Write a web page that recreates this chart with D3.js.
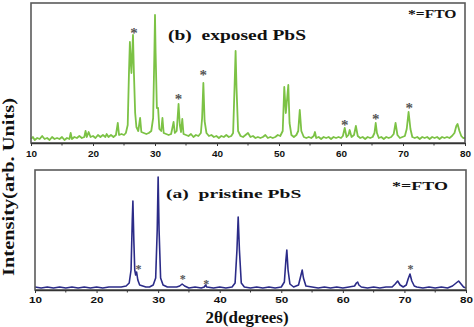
<!DOCTYPE html>
<html><head><meta charset="utf-8">
<script src="https://cdn.jsdelivr.net/npm/d3@7"></script>
<style>
html,body{margin:0;padding:0;background:#fff;}
svg{display:block;}
</style></head>
<body>
<svg id="chart" width="474" height="327"></svg>
<script>
// ---- data (2θ in degrees, intensity in arb. units) ----
const exposedAngle = [10,10.3,10.6,11,11.4,11.8,12.2,12.6,13,13.4,13.8,14.2,14.6,15,15.4,15.8,16.2,16.4,16.6,17,17.4,17.8,18.2,18.6,18.8,19.0,19.3,19.6,20,20.4,20.8,21.2,21.6,22,22.2,22.5,22.9,23.3,23.7,24.0,24.2,24.6,25.0,25.3,25.6,25.8,25.95,26.1,26.2,26.3,26.45,26.6,26.8,27.0,27.3,27.6,27.8,28.2,28.6,29.0,29.4,29.7,29.9,30.0,30.1,30.3,30.5,30.7,31.0,31.2,31.4,31.8,32.2,32.6,33.0,33.2,33.5,33.8,34.0,34.2,34.4,34.6,35.0,35.4,35.8,36.2,36.6,37.0,37.4,37.6,37.8,38.0,38.3,38.7,39.1,39.5,39.9,40.3,40.7,41.1,41.5,41.9,42.3,42.6,42.85,43.0,43.15,43.4,43.8,44.2,44.6,45.0,45.4,45.8,46.2,46.6,47.0,47.4,47.8,48.2,48.6,49.0,49.4,49.8,50.2,50.6,50.85,51.1,51.25,51.5,51.7,52.0,52.4,52.8,53.1,53.35,53.6,54.0,54.4,54.8,55.2,55.6,55.8,56.0,56.4,56.8,57.2,57.6,58.0,58.4,58.8,59.2,59.6,60.0,60.3,60.6,60.9,61.2,61.4,61.7,62.1,62.4,62.7,63.1,63.5,63.9,64.3,64.7,65.1,65.4,65.6,65.8,66.1,66.5,66.9,67.3,67.7,68.1,68.5,68.8,69.1,69.5,69.9,70.3,70.6,70.9,71.2,71.5,71.9,72.3,72.7,73.1,73.5,73.9,74.3,74.7,75.1,75.5,75.9,76.3,76.7,77.1,77.5,77.9,78.3,78.6,78.8,79.1,79.4,79.7,80];
const exposedIntensity = [4,6,3,5,4,7,4,5,3,6,4,5,4,6,3,5,4,10,4,6,5,7,5,6,12,6,11,6,7,5,8,6,8,6,9,6,8,6,8,20,8,9,8,10,18,70,101,80,70,85,108,70,30,16,12,25,11,10,9,10,12,25,90,128,90,35,35,14,12,25,10,9,8,9,21,10,12,39,18,11,24,9,8,7,9,6,8,7,10,25,60,22,10,7,8,6,7,5,7,6,8,6,7,10,60,92,55,12,7,6,8,10,6,7,5,6,5,6,8,5,6,5,6,8,7,12,56,30,40,58,20,8,6,8,12,33,12,6,5,6,5,7,11,5,6,4,6,5,6,4,6,5,6,5,7,15,6,8,13,6,8,17,7,5,6,4,6,5,6,10,20,10,5,6,4,6,5,6,9,20,8,5,6,7,14,31,14,6,5,6,4,6,5,6,4,6,5,6,4,6,5,6,5,7,10,17,19,12,7,5,5];

const pristineAngle = [10,11,12,13,14,15,16,17,18,19,20,21,22,23,24,24.8,25.3,25.6,25.8,25.9,26.05,26.2,26.35,26.5,26.7,27.0,27.5,28,28.6,29.2,29.6,29.85,30.0,30.15,30.4,30.8,31.5,32.3,33.0,33.5,33.9,34.3,35,36,37,37.5,37.7,37.9,39,40,41,42,42.5,42.8,43.0,43.2,43.5,44,45,46,47,48,49,50,50.5,50.75,50.9,51.1,51.4,52,52.8,53.2,53.4,53.6,54,55,56,57,58,59,60,61,61.9,62.2,62.4,62.6,63,64,65,66,67,68,68.5,68.9,69.3,69.8,70.3,70.6,70.9,71.2,71.6,72,73,74,75,76,77,77.8,78.4,78.8,79.2,79.6,80];
const pristineIntensity = [3,2,3,2,3,2,3,2,3,2,3,2,3,3,3,4,7,20,70,89,50,20,15,18,10,5,4,3,3,5,12,60,113,60,12,5,3,3,3,4,6,4,2,3,2,3,5,3,2,3,2,3,7,40,73,40,7,3,2,3,2,3,2,3,8,30,40,20,6,3,5,15,20,12,4,3,2,3,2,3,2,3,4,7,8,5,3,2,3,2,3,3,6,9,5,3,5,11,16,9,4,3,2,3,2,3,2,4,7,9,6,3,2];

const exposedStarAngle = [26.6, 33.8, 37.8, 60.6, 65.6, 71.0];
const exposedStarHeight = [113, 47, 71, 21, 27, 38];
const pristineStarAngle = [26.8, 34.0, 37.8, 71.0];
const pristineStarHeight = [23, 13, 8, 23];

const xTicks = [10, 20, 30, 40, 50, 60, 70, 80];
const xMinorTicks = [15, 25, 35, 45, 55, 65, 75];

const exposedLabel = "(b)  exposed PbS";
const pristineLabel = "(a)  pristine PbS";
const legendLabel = "*=FTO";
const yTitle = "Intensity(arb. Units)";
const xTitle = "2θ(degrees)";

// ---- drawing ----
const svg = d3.select("#chart");
const serif = "'Liberation Serif','Times New Roman',serif";
const sans = "'Liberation Sans',Arial,sans-serif";

function wideText(sel, x, y, sx, size, str) {
  return sel.append("text")
    .attr("transform", `translate(${x},${y}) scale(${sx},1)`)
    .attr("font-family", serif).attr("font-weight", "bold").attr("font-size", size)
    .attr("fill", "#111").style("white-space", "pre")
    .text(str);
}

function panel(cfg) {
  const x = d3.scaleLinear().domain([10, 80]).range([cfg.left, cfg.right]);
  const y = d3.scaleLinear().domain([0, cfg.ymax]).range([cfg.bottom, cfg.top]);
  const g = svg.append("g");

  const pts = cfg.angle.map((a, i) => [a, cfg.intensity[i]]);
  g.append("path")
    .datum(pts)
    .attr("fill", "none")
    .attr("stroke", cfg.color)
    .attr("stroke-width", cfg.lw)
    .attr("stroke-linejoin", "round")
    .attr("d", d3.line().x(d => x(d[0])).y(d => y(d[1])));

  // frame
  g.append("rect")
    .attr("x", cfg.left).attr("y", cfg.top)
    .attr("width", cfg.right - cfg.left).attr("height", cfg.bottom - cfg.top)
    .attr("fill", "none").attr("stroke", "#5a5a5a").attr("stroke-width", 1.6);

  // axis
  const ax = d3.axisBottom(x).tickValues(xTicks).tickSize(3).tickSizeOuter(0).tickFormat(d3.format("d"));
  const axg = g.append("g").attr("transform", `translate(0,${cfg.bottom})`).call(ax);
  axg.select(".domain").attr("stroke", "#333").attr("stroke-width", 1.6);
  axg.selectAll(".tick line").attr("stroke", "#333");
  axg.selectAll(".tick text")
    .attr("font-family", sans).attr("font-weight", "bold").attr("font-size", cfg.tickFs)
    .attr("fill", "#111").attr("dy", cfg.tickDy)
    .attr("transform", `scale(${cfg.tickSx},1)`);
  axg.selectAll(".minor").data(xMinorTicks).enter().append("line")
    .attr("x1", d => x(d)).attr("x2", d => x(d)).attr("y1", 0).attr("y2", 2.5)
    .attr("stroke", "#333");

  // stars
  g.selectAll(".star").data(cfg.starAngle).enter().append("text")
    .attr("x", d => x(d))
    .attr("y", (d, i) => y(cfg.starHeight[i]) + cfg.starFs * 0.5)
    .attr("text-anchor", "middle")
    .attr("font-family", serif).attr("font-weight", "bold")
    .attr("font-size", cfg.starFs).attr("fill", "#555")
    .text("*");

  wideText(g, cfg.labelX, cfg.labelY, cfg.labelSx, cfg.labelFs, cfg.label);
  wideText(g, cfg.legX, cfg.legY, cfg.legSx, 12, legendLabel);
}

panel({left: 31, right: 465, top: 3, bottom: 143, ymax: 140,
  angle: exposedAngle, intensity: exposedIntensity, color: "#7cc245", lw: 1.8,
  starAngle: exposedStarAngle, starHeight: exposedStarHeight, starFs: 15,
  label: exposedLabel, labelX: 168, labelY: 40, labelSx: 1.3, labelFs: 15,
  legX: 408, legY: 18, legSx: 1.3, tickFs: 9.5, tickSx: 1.05, tickDy: "0.8em"});

panel({left: 35, right: 466, top: 170, bottom: 290, ymax: 120,
  angle: pristineAngle, intensity: pristineIntensity, color: "#2b2b88", lw: 1.6,
  starAngle: pristineStarAngle, starHeight: pristineStarHeight, starFs: 12,
  label: pristineLabel, labelX: 166, labelY: 198, labelSx: 1.45, labelFs: 13.5,
  legX: 392, legY: 190, legSx: 1.5, tickFs: 9, tickSx: 1.3, tickDy: "0.8em"});

// titles
svg.append("text")
  .attr("transform", "translate(14,187) rotate(-90) scale(1.2,1)")
  .attr("text-anchor", "middle")
  .attr("font-family", serif).attr("font-weight", "bold").attr("font-size", 17)
  .attr("fill", "#111").text(yTitle);
svg.append("text")
  .attr("x", 247).attr("y", 323)
  .attr("text-anchor", "middle")
  .attr("font-family", serif).attr("font-weight", "bold").attr("font-size", 17)
  .attr("fill", "#111").text(xTitle);
</script>
</body></html>
